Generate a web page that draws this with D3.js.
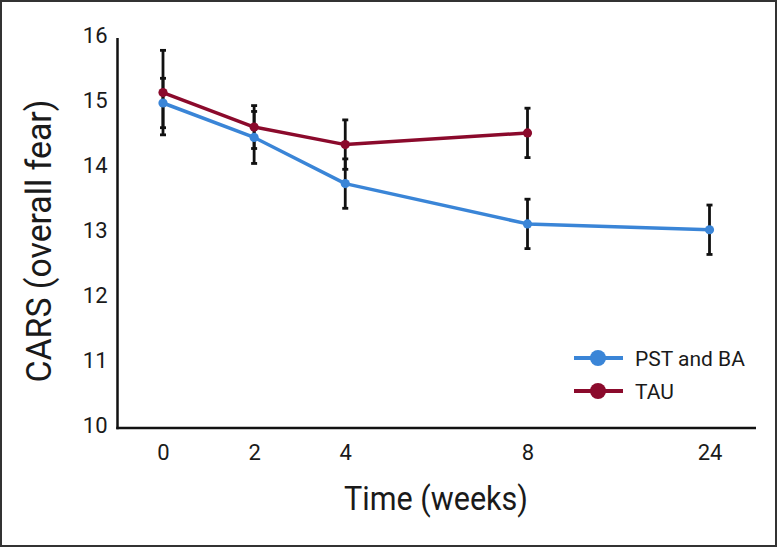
<!DOCTYPE html>
<html><head><meta charset="utf-8">
<script src="https://cdn.jsdelivr.net/npm/d3@7"></script>
<style>html,body{margin:0;padding:0;background:#fff;}svg{display:block;}</style>
</head><body>
<script>
const weeks = [0, 2, 4, 8, 24];
const xTickLabels = ["0", "2", "4", "8", "24"];
const yTicks = [10, 11, 12, 13, 14, 15, 16];
const seriesNames = ["PST and BA", "TAU"];
const pstMean = [15.0, 14.47, 13.76, 13.14, 13.05];
const pstErr  = [0.38, 0.40, 0.38, 0.38, 0.38];
const tauMean = [15.16, 14.63, 14.36, 14.54];
const tauErr  = [0.65, 0.33, 0.38, 0.38];
const colors = ["#3a85d7", "#8b0a2c"];

const W = 777, H = 547;
const svg = d3.select("body").append("svg").attr("width", W).attr("height", H);

// frame
svg.append("rect").attr("x", 1).attr("y", 1).attr("width", W - 2).attr("height", H - 2)
  .attr("fill", "#fff").attr("stroke", "#333").attr("stroke-width", 2);

const axisLeft = 117.5, axisRight = 756, yTop = 38, yBottom = 428;
const y = d3.scaleLinear().domain([10, 16]).range([yBottom, yTop]);
// non-uniform time axis: linear up to 8 weeks, compressed after
const x = d3.scaleLinear().domain([0, 8, 24]).range([163, 527.5, 709.5]);

// axes lines
svg.append("line").attr("x1", axisLeft).attr("x2", axisLeft).attr("y1", yTop).attr("y2", yBottom + 1.2)
  .attr("stroke", "#111").attr("stroke-width", 2.5);
svg.append("line").attr("x1", axisLeft - 1.2).attr("x2", axisRight).attr("y1", yBottom).attr("y2", yBottom)
  .attr("stroke", "#111").attr("stroke-width", 2.5);

// y tick labels
const yAxis = d3.axisLeft(y).tickValues(yTicks).tickFormat(d3.format("d")).tickSize(0).tickPadding(0);
const gy = svg.append("g").attr("transform", `translate(${axisLeft - 10},0)`).call(yAxis);
gy.select(".domain").remove();
gy.selectAll("text").attr("font-family", "Roboto, sans-serif").attr("font-size", 22)
  .attr("fill", "#1a1a1a").attr("dy", "0.28em")
  .attr("transform", "translate(0,-2)");

// x tick labels
const xAxis = d3.axisBottom(x).tickValues(weeks).tickFormat((d, i) => xTickLabels[i]).tickSize(0).tickPadding(0);
const gx = svg.append("g").attr("transform", `translate(0,${yBottom + 16})`).call(xAxis);
gx.select(".domain").remove();
gx.selectAll("text").attr("font-family", "Roboto, sans-serif").attr("font-size", 22)
  .attr("fill", "#1a1a1a").attr("dy", "0.71em");

// axis titles
svg.append("text").attr("x", 436).attr("y", 510).attr("text-anchor", "middle")
  .attr("font-family", "Roboto, sans-serif").attr("font-size", 33).attr("fill", "#1a1a1a")
  .attr("textLength", 184).attr("lengthAdjust", "spacingAndGlyphs")
  .text("Time (weeks)");
svg.append("text").attr("transform", "translate(51,241) rotate(-90)").attr("text-anchor", "middle")
  .attr("font-family", "Roboto, sans-serif").attr("font-size", 35).attr("fill", "#1a1a1a")
  .attr("textLength", 283).attr("lengthAdjust", "spacingAndGlyphs")
  .text("CARS (overall fear)");

const series = [
  {name: seriesNames[0], mean: pstMean, err: pstErr, color: colors[0]},
  {name: seriesNames[1], mean: tauMean, err: tauErr, color: colors[1]}
];

const line = d3.line().x(d => x(d.w)).y(d => y(d.m));

series.forEach(s => {
  s.pts = s.mean.map((m, i) => ({w: weeks[i], m, e: s.err[i]}));
});

// lines
series.forEach(s => {
  svg.append("path").datum(s.pts).attr("d", line).attr("fill", "none")
    .attr("stroke", s.color).attr("stroke-width", 3.5).attr("stroke-linejoin", "round");
});

// error bars
series.forEach(s => {
  const g = svg.append("g");
  s.pts.forEach(p => {
    g.append("line").attr("x1", x(p.w)).attr("x2", x(p.w)).attr("y1", y(p.m + p.e)).attr("y2", y(p.m - p.e))
      .attr("stroke", "#111").attr("stroke-width", 2.8);
    [p.m + p.e, p.m - p.e].forEach(v => {
      g.append("line").attr("x1", x(p.w) - 3).attr("x2", x(p.w) + 3).attr("y1", y(v)).attr("y2", y(v))
        .attr("stroke", "#111").attr("stroke-width", 2.8);
    });
  });
});

// dots
series.forEach(s => {
  svg.append("g").selectAll("circle").data(s.pts).join("circle")
    .attr("cx", d => x(d.w)).attr("cy", d => y(d.m)).attr("r", 4.6).attr("fill", s.color);
});

// legend
const lg = svg.append("g");
series.forEach((s, i) => {
  const ly = 358 + i * 33;
  lg.append("line").attr("x1", 574).attr("x2", 623).attr("y1", ly).attr("y2", ly)
    .attr("stroke", s.color).attr("stroke-width", 4);
  lg.append("circle").attr("cx", 598).attr("cy", ly).attr("r", 8).attr("fill", s.color);
  lg.append("text").attr("x", 635).attr("y", ly + 7.5).attr("font-family", "Roboto, sans-serif")
    .attr("font-size", 21).attr("fill", "#1a1a1a").text(s.name);
});
</script>
</body></html>
